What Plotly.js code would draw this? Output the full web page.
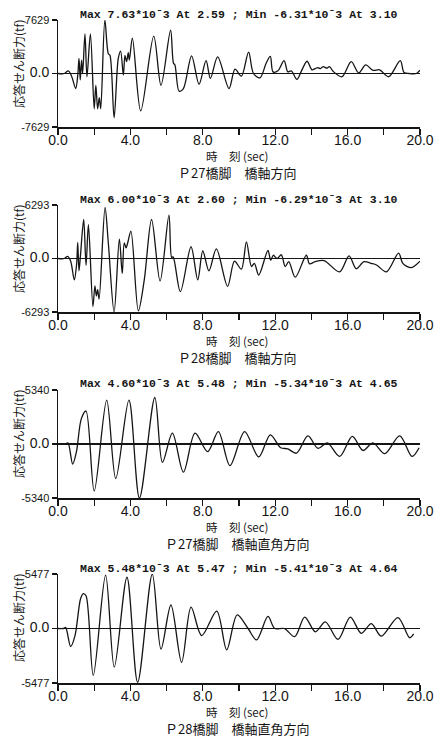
<!DOCTYPE html>
<html>
<head>
<meta charset="utf-8">
<script src="https://cdn.plot.ly/plotly-3.0.1.min.js"></script>
<style>html,body{margin:0;padding:0;background:#fff;}</style>
</head>
<body>
<div id="chart" style="width:438px;height:737px;"></div>
<script>
// ---- Data (time in sec, shear force in axis units) ----
const xTickVals = [0, 2, 4, 6, 8, 10, 12, 14, 16, 18, 20];
const xTickText = ['0.0', '', '4.0', '', '8.0', '', '12.0', '', '16.0', '', '20.0'];

const timeP27Long = [0,0.35,0.57,0.75,0.98,1.10,1.16,1.23,1.30,1.36,1.49,1.60,1.79,2.00,2.09,2.19,2.28,2.36,2.59,2.78,2.87,3.10,3.33,3.46,3.61,3.70,3.79,3.88,3.94,4.11,4.57,5.29,5.69,6.22,6.38,6.46,6.69,6.93,7.38,7.79,8.18,8.42,8.82,9.45,9.78,10.13,10.53,10.80,11.16,11.51,11.73,11.88,12.15,12.49,12.70,12.89,13.20,13.44,13.76,14.03,14.20,14.36,14.50,14.64,14.86,15.00,15.20,15.69,16.20,16.61,17.00,17.40,17.77,18.27,18.91,19.12,19.40,19.80,20.0];
const shearP27Long = [0,0,380,-380,-2140,0,2140,-920,1910,0,5650,-460,5650,-5040,-1680,-5040,-3430,-5040,7629,2820,2590,-6310,2140,3200,-230,2590,1680,2980,1910,5040,-5340,5340,-1680,6180,1450,1220,-2520,-2140,2520,-1530,1830,-690,2370,-2140,610,-380,3050,0,-610,1530,2440,230,380,1830,230,380,-840,310,1750,530,690,840,690,990,760,990,310,-460,1680,80,1220,460,530,-460,1830,150,0,0,460];

const timeP28Long = [0,0.35,0.53,0.70,0.90,1.03,1.09,1.16,1.24,1.42,1.55,1.68,1.93,2.04,2.12,2.19,2.27,2.60,2.78,3.10,3.39,3.55,3.66,3.76,3.85,4.03,4.44,4.77,5.17,5.64,6.13,6.28,6.36,6.76,7.35,7.72,8.00,8.34,8.75,9.37,9.75,10.13,10.41,10.69,10.85,11.09,11.60,11.75,11.90,12.10,12.34,12.55,12.75,13.11,13.72,13.90,14.20,14.70,15.56,16.08,16.48,16.90,17.30,17.60,18.14,18.82,19.05,19.52,20.0];
const shearP28Long = [0,0,250,-310,-2520,-630,1890,-1450,310,4590,-820,3970,-5660,-3210,-4410,-3650,-4780,6000,1830,-6290,2270,-1760,1830,1260,1830,3210,-6150,-2450,4590,-2640,5100,130,190,-3900,1380,-2520,880,-1450,1130,-3270,-310,-1260,1950,-940,-570,-1950,940,-190,380,0,440,-940,-380,-2200,380,-630,-380,-250,-1570,310,-1200,-380,-570,-760,-1570,630,-570,-1070,-310];

const timeP27Trans = [0,0.40,0.55,0.81,1.02,1.29,1.55,2.00,2.69,3.19,3.92,4.50,5.35,5.77,6.32,6.93,7.57,8.27,8.86,9.50,10.31,11.09,11.73,12.30,12.70,13.17,13.81,14.36,14.88,15.56,16.26,16.85,17.40,18.05,18.88,19.56,19.95];
const shearP27Trans = [0,0,110,-1980,-750,2510,3260,-4650,4330,-3420,4330,-5340,4600,-1820,1070,-2780,1070,-750,1230,-2140,1230,-1280,910,-370,-480,-910,800,-430,110,-1230,750,-640,110,-960,800,-1230,-370];

const timeP28Trans = [0,0.30,0.42,0.70,0.94,1.25,1.40,1.55,1.95,2.63,3.11,3.81,4.40,5.21,5.69,6.24,6.83,7.35,7.94,8.77,9.32,9.90,10.50,10.97,11.60,11.97,12.50,13.08,13.63,14.22,14.77,15.47,16.15,16.76,17.31,17.86,18.78,19.43,19.65];
const shearP28Trans = [0,0,110,-1810,-710,3010,3510,3290,-4710,5370,-3890,5150,-5410,5477,-2080,2360,-3400,2140,-710,1750,-2140,1370,0,-1150,1210,0,0,-820,1150,-330,660,-1100,1150,-490,490,-770,1100,-930,-550];

const axisMax = [7629, 6293, 5340, 5477];
const headers = [
  'Max 7.63*10ˉ3 At 2.59 ; Min -6.31*10ˉ3 At 3.10',
  'Max 6.00*10ˉ3 At 2.60 ; Min -6.29*10ˉ3 At 3.10',
  'Max 4.60*10ˉ3 At 5.48 ; Min -5.34*10ˉ3 At 4.65',
  'Max 5.48*10ˉ3 At 5.47 ; Min -5.41*10ˉ3 At 4.64'
];
const captions = ['Ｐ27橋脚　橋軸方向', 'Ｐ28橋脚　橋軸方向', 'Ｐ27橋脚　橋軸直角方向', 'Ｐ28橋脚　橋軸直角方向'];
const yTitle = '応答せん断力(tf)';
const xTitle = '時　刻 (sec)';

const series = [
  [timeP27Long, shearP27Long],
  [timeP28Long, shearP28Long],
  [timeP27Trans, shearP27Trans],
  [timeP28Trans, shearP28Trans]
];

// ---- Layout geometry (pixels) ----
const W = 438, H = 737;
const X0 = 58, X1 = 420;
const rows = [[20, 127], [205, 312], [390, 498], [574, 683]];
const ink = '#151515';
const sans = 'Liberation Sans, Arial, sans-serif';
const mono = 'Liberation Mono, DejaVu Sans Mono, monospace';
const cjk = 'Noto Sans CJK JP, Noto Sans CJK SC, sans-serif';

const traces = [];
const layout = {
  width: W, height: H,
  margin: {l: 0, r: 0, t: 0, b: 0},
  paper_bgcolor: '#ffffff', plot_bgcolor: '#ffffff',
  showlegend: false,
  annotations: []
};

series.forEach((s, i) => {
  const k = i === 0 ? '' : String(i + 1);
  const m = axisMax[i];
  const top = rows[i][0], bot = rows[i][1];
  traces.push({
    type: 'scatter', mode: 'lines',
    x: s[0], y: s[1],
    xaxis: 'x' + k, yaxis: 'y' + k,
    line: {color: ink, width: 1.3, shape: 'spline', smoothing: 0.9},
    hoverinfo: 'skip'
  });
  layout['xaxis' + k] = {
    domain: [X0 / W, X1 / W], anchor: 'y' + k,
    range: [0, 20], tickmode: 'array', tickvals: xTickVals, ticktext: xTickText,
    ticks: 'outside', ticklen: 6, tickwidth: 1.3, tickcolor: ink,
    ticklabelstandoff: -6,
    showline: true, linecolor: ink, linewidth: 1.5,
    showgrid: false, zeroline: false,
    tickfont: {family: sans, size: 14, color: ink},
    fixedrange: true
  };
  layout['yaxis' + k] = {
    domain: [1 - bot / H, 1 - top / H], anchor: 'x' + k,
    range: [-m, m], tickmode: 'array', tickvals: [-m, 0, m],
    ticktext: ['-' + m, '<span style="font-size:14px">0.0</span>', String(m)],
    ticks: 'outside', ticklen: 5, tickwidth: 1.3, tickcolor: ink,
    showline: true, linecolor: ink, linewidth: 1.5,
    showgrid: false, zeroline: true, zerolinecolor: ink, zerolinewidth: 1.3,
    tickfont: {family: sans, size: 11, color: ink},
    fixedrange: true
  };
  layout.annotations.push(
    {xref: 'paper', yref: 'paper', x: 239 / W, y: 1 - (top - 6) / H, xanchor: 'center', yanchor: 'middle',
     text: '<b>' + headers[i] + '</b>', showarrow: false, font: {family: mono, size: 11.5, color: ink}},
    {xref: 'paper', yref: 'paper', x: 18 / W, y: 1 - (top + 44) / H, xanchor: 'center', yanchor: 'middle',
     text: yTitle, textangle: -90, showarrow: false, font: {family: cjk, size: 12, color: ink}},
    {xref: 'paper', yref: 'paper', x: 237 / W, y: 1 - (bot + 29) / H, xanchor: 'center', yanchor: 'middle',
     text: xTitle, showarrow: false, font: {family: cjk, size: 11.5, color: ink}},
    {xref: 'paper', yref: 'paper', x: 237 / W, y: 1 - (bot + 45.5) / H, xanchor: 'center', yanchor: 'middle',
     text: captions[i], showarrow: false, font: {family: cjk, size: 13, color: ink}}
  );
});

Plotly.newPlot('chart', traces, layout, {displayModeBar: false, staticPlot: true});
</script>
</body>
</html>
